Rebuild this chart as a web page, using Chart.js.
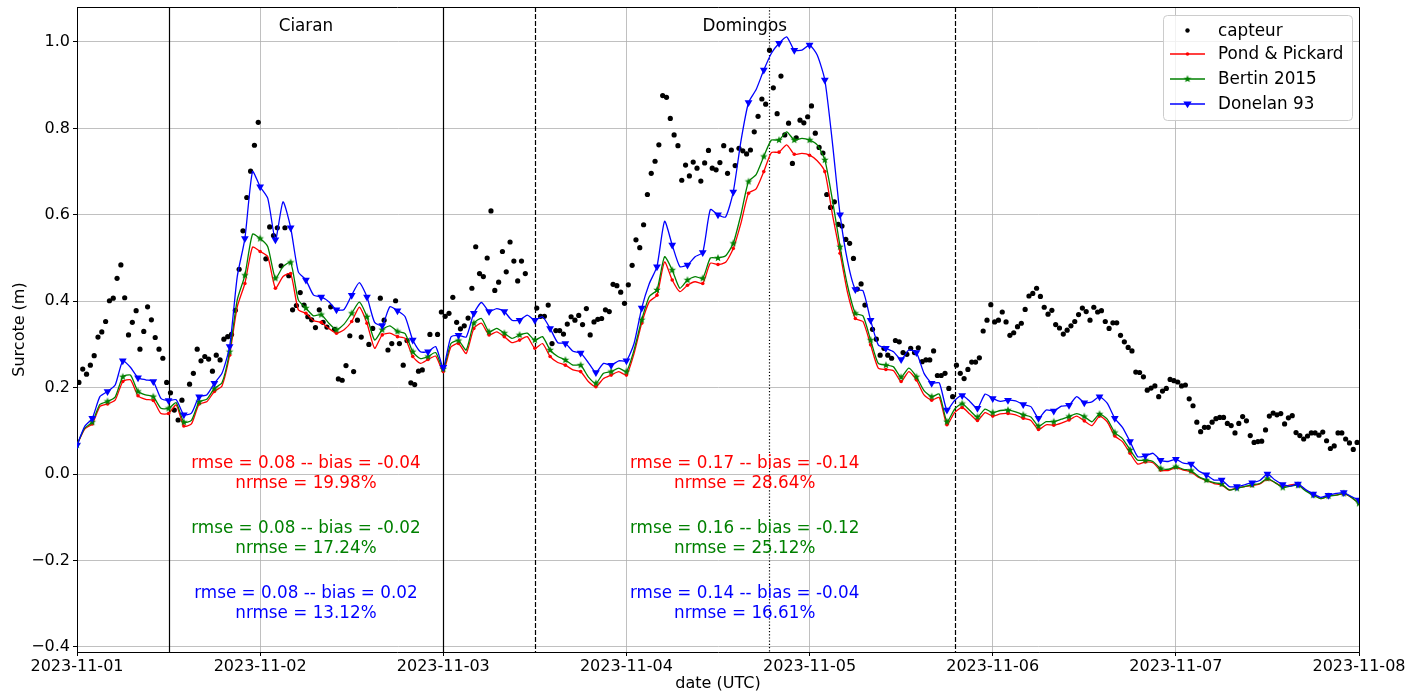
<!DOCTYPE html>
<html>
<head>
<meta charset="utf-8">
<script src="https://cdn.jsdelivr.net/npm/chart.js@4.4.0/dist/chart.umd.min.js"></script>
<style>
  body { margin: 0; background: #fff; }
  canvas { display: block; }
</style>
</head>
<body>
<canvas id="surcoteChart" width="1414" height="693"></canvas>
<script>
const FONT = "'DejaVu Sans', sans-serif";

// x axis is in hours since 2023-11-01 00:00 UTC
const dayLabels = ['2023-11-01', '2023-11-02', '2023-11-03', '2023-11-04',
                   '2023-11-05', '2023-11-06', '2023-11-07', '2023-11-08'];

// storms: solid/dashed bounds (hours) + dotted line for Domingos
const stormNames = ['Ciaran', 'Domingos'];
const stormStart = [12, 60];
const stormEnd = [48, 115];
const stormDash = [[], [5, 2]];
const domingosMark = 90.7;

// scores printed under each storm (Pond & Pickard, Bertin, Donelan)
const ciaranStats = [
    ['rmse = 0.08 -- bias = -0.04', 'nrmse = 19.98%'],
    ['rmse = 0.08 -- bias = -0.02', 'nrmse = 17.24%'],
    ['rmse = 0.08 -- bias = 0.02', 'nrmse = 13.12%']
];
const domingosStats = [
    ['rmse = 0.17 -- bias = -0.14', 'nrmse = 28.64%'],
    ['rmse = 0.16 -- bias = -0.12', 'nrmse = 25.12%'],
    ['rmse = 0.14 -- bias = -0.04', 'nrmse = 16.61%']
];
const statLevels = [0, -0.15, -0.3];

// sensor, half-hourly from 00:15 (null = missing)
const capteur = [
    0.212,0.243,0.231,0.252,0.274,0.317,0.329,0.353,0.401,0.407,0.453,0.484,0.408,0.322,0.351,0.378,0.289,0.330,0.387,0.357,0.316,0.289,0.268,0.212,
    0.188,0.148,0.125,0.171,null,0.208,0.233,0.289,0.262,0.272,0.266,0.238,0.275,0.264,0.312,0.318,0.323,0.379,0.474,0.563,0.640,0.701,0.761,0.814,
    null,0.498,0.572,0.552,0.570,0.482,0.570,0.459,0.380,0.390,0.420,0.391,0.364,0.357,0.339,0.380,0.351,0.340,0.387,0.335,0.220,0.217,0.251,0.320,
    0.237,0.356,0.317,null,0.300,0.337,null,0.407,0.356,0.287,0.302,0.401,0.302,0.252,0.309,0.211,0.207,0.238,0.241,null,0.323,null,0.323,0.375,
    0.365,0.372,0.409,0.351,0.336,0.343,0.361,0.430,0.526,0.464,0.457,0.500,0.609,0.425,0.444,0.515,0.468,0.537,0.493,0.447,0.493,0.464,null,null,
    0.384,0.365,0.365,0.391,0.302,0.332,0.332,0.324,0.347,0.364,0.356,0.367,0.346,0.383,0.322,0.352,0.358,0.360,0.380,0.376,0.439,0.436,0.421,0.395,
    0.438,0.483,0.542,0.524,0.577,0.647,0.696,0.724,0.762,0.876,0.872,0.823,0.785,0.760,0.680,0.715,0.690,0.722,0.708,0.678,0.720,0.749,0.708,0.704,
    0.721,0.760,0.696,0.750,0.714,0.754,0.748,0.741,0.750,0.792,0.828,0.868,0.856,0.981,0.894,0.834,0.921,0.785,0.812,0.719,0.778,0.819,0.813,0.827,
    0.852,0.789,0.756,0.743,0.647,0.617,0.630,0.578,0.574,0.543,0.534,0.499,0.428,0.440,0.391,null,0.335,0.312,0.275,0.291,0.275,0.268,0.309,0.306,
    0.281,0.277,0.291,0.281,0.292,0.260,0.264,0.264,0.285,0.228,0.228,0.233,0.198,0.179,0.252,0.233,0.221,0.242,0.259,0.259,0.269,0.331,0.356,0.392,
    0.352,0.356,0.375,0.352,0.321,0.327,0.341,0.349,0.381,0.412,0.418,0.430,0.411,0.386,0.370,0.379,0.346,0.338,0.324,0.333,0.343,0.353,0.369,0.384,
    0.376,0.356,0.386,0.375,0.378,0.353,0.337,0.350,0.350,0.321,0.306,0.293,0.285,0.236,0.235,0.225,0.194,0.199,0.204,0.179,0.192,0.198,0.219,0.216,
    0.213,0.204,0.206,0.174,0.158,0.120,0.098,0.108,0.108,0.120,0.128,0.131,0.131,0.117,0.112,0.095,0.117,0.133,0.123,0.089,0.073,0.075,0.076,0.102,
    0.134,0.141,0.137,0.140,0.116,0.130,0.135,0.096,0.089,0.081,0.088,0.095,0.095,0.090,0.097,0.077,0.059,0.065,0.095,0.095,0.081,0.072,0.057,0.073
];

// models, hourly from 00:00
const pondPickard = [
    0.067,0.104,0.116,0.156,0.162,0.171,0.214,0.218,0.181,0.173,
    0.170,0.140,0.140,0.160,0.111,0.116,0.162,0.167,0.191,0.204,
    0.275,0.387,0.441,0.525,0.515,0.503,0.430,0.457,0.464,0.380,
    0.372,0.355,0.351,0.337,0.326,0.334,0.353,0.386,0.349,0.291,
    0.322,0.326,0.318,0.314,0.272,0.256,0.265,0.273,0.237,0.294,
    0.302,0.279,0.337,0.349,0.322,0.329,0.318,0.304,0.310,0.318,
    0.291,0.302,0.272,0.258,0.252,0.241,0.237,0.214,0.202,0.221,
    0.229,0.237,0.229,0.279,0.349,0.399,0.414,0.491,0.449,0.422,
    0.437,0.445,0.441,0.488,0.485,0.490,0.522,0.580,0.650,0.660,
    0.700,0.744,0.745,0.762,0.740,0.742,0.738,0.725,0.700,0.600,
    0.511,0.418,0.360,0.353,0.299,0.245,0.242,0.239,0.214,0.237,
    0.218,0.183,0.171,0.177,0.114,0.142,0.154,0.139,0.124,0.142,
    0.134,0.139,0.140,0.137,0.129,0.124,0.103,0.114,0.113,0.118,
    0.125,0.134,0.123,0.112,0.134,0.121,0.088,0.075,0.048,0.023,
    0.028,0.026,0.009,0.008,0.015,0.009,0.005,-0.008,-0.015,-0.022,
    -0.025,-0.037,-0.032,-0.029,-0.027,-0.023,-0.012,-0.020,-0.029,-0.025,
    -0.024,-0.037,-0.047,-0.057,-0.051,-0.049,-0.046,-0.054,-0.068
];
const bertin2015 = [
    0.067,0.106,0.120,0.161,0.168,0.178,0.225,0.229,0.191,0.183,
    0.179,0.152,0.152,0.165,0.120,0.124,0.167,0.173,0.198,0.211,
    0.283,0.403,0.460,0.555,0.545,0.526,0.453,0.480,0.490,0.403,
    0.384,0.366,0.369,0.349,0.334,0.347,0.372,0.398,0.364,0.310,
    0.334,0.343,0.330,0.325,0.283,0.267,0.272,0.281,0.243,0.302,
    0.309,0.287,0.349,0.360,0.329,0.337,0.326,0.314,0.322,0.326,
    0.310,0.318,0.287,0.272,0.264,0.252,0.252,0.225,0.210,0.233,
    0.237,0.245,0.237,0.287,0.357,0.411,0.426,0.503,0.472,0.430,
    0.449,0.457,0.453,0.500,0.500,0.505,0.534,0.600,0.677,0.693,
    0.735,0.773,0.773,0.792,0.773,0.777,0.773,0.762,0.727,0.634,
    0.526,0.434,0.372,0.366,0.310,0.256,0.252,0.248,0.224,0.245,
    0.225,0.193,0.179,0.185,0.121,0.150,0.163,0.147,0.132,0.150,
    0.142,0.147,0.148,0.144,0.137,0.132,0.111,0.121,0.121,0.127,
    0.133,0.140,0.133,0.121,0.139,0.127,0.096,0.082,0.056,0.032,
    0.032,0.029,0.013,0.011,0.017,0.011,0.008,-0.006,-0.014,-0.020,
    -0.023,-0.037,-0.033,-0.029,-0.025,-0.022,-0.010,-0.020,-0.031,-0.028,
    -0.026,-0.039,-0.049,-0.057,-0.051,-0.049,-0.045,-0.054,-0.068
];
const donelan93 = [
    0.067,0.110,0.129,0.179,0.191,0.206,0.262,0.247,0.223,0.218,
    0.214,0.175,0.170,0.172,0.137,0.141,0.179,0.183,0.210,0.233,
    0.295,0.457,0.545,0.700,0.665,0.638,0.542,0.630,0.570,0.468,
    0.449,0.414,0.410,0.399,0.380,0.381,0.414,0.443,0.410,0.351,
    0.344,0.387,0.378,0.364,0.310,0.283,0.283,0.295,0.247,0.317,
    0.321,0.317,0.372,0.397,0.376,0.383,0.376,0.356,0.356,0.368,
    0.356,0.364,0.337,0.304,0.302,0.284,0.280,0.258,0.235,0.256,
    0.252,0.262,0.262,0.302,0.384,0.441,0.480,0.585,0.530,0.480,
    0.484,0.503,0.513,0.612,0.600,0.595,0.653,0.770,0.860,0.890,
    0.935,0.974,0.997,1.012,0.981,0.981,0.993,0.970,0.912,0.766,
    0.600,0.491,0.427,0.424,0.356,0.299,0.291,0.283,0.265,0.287,
    0.281,0.233,0.210,0.211,0.148,0.170,0.182,0.168,0.152,0.185,
    0.175,0.168,0.171,0.169,0.161,0.156,0.129,0.148,0.146,0.157,
    0.159,0.179,0.165,0.167,0.179,0.164,0.129,0.108,0.075,0.040,
    0.042,0.048,0.032,0.029,0.034,0.025,0.023,0.007,-0.002,-0.014,
    -0.014,-0.029,-0.029,-0.025,-0.020,-0.015,0.000,-0.014,-0.024,-0.028,
    -0.023,-0.036,-0.046,-0.054,-0.049,-0.045,-0.043,-0.052,-0.060
];

const RED = '#ff0000', GREEN = '#008000', BLUE = '#0000ff';

function hourly(arr) {
    return arr.map((v, i) => ({ x: i, y: v }));
}

const capteurPts = [];
capteur.forEach((v, i) => {
    if (v !== null) capteurPts.push({ x: 0.25 + 0.5 * i, y: v });
});

// filled 5-branch star like matplotlib '*'
function starImage(color, r) {
    const c = document.createElement('canvas');
    c.width = c.height = 2 * r + 2;
    const g = c.getContext('2d');
    g.fillStyle = color;
    g.beginPath();
    for (let k = 0; k < 10; k++) {
        const rad = k % 2 === 0 ? r : r * 0.42;
        const a = -Math.PI / 2 + k * Math.PI / 5;
        g.lineTo(r + 1 + rad * Math.cos(a), r + 1 + rad * Math.sin(a));
    }
    g.closePath();
    g.fill();
    return c;
}
const greenStar = starImage(GREEN, 4);

// markers only every other hour
const every2 = r => ctx => (ctx.dataIndex % 2 === 0 ? r : 0);

function drawTriDown(g, x, y, r, color) {
    g.fillStyle = color;
    g.beginPath();
    g.moveTo(x - r, y - r * 0.6);
    g.lineTo(x + r, y - r * 0.6);
    g.lineTo(x, y + r);
    g.closePath();
    g.fill();
}

const overlay = {
    id: 'overlay',
    beforeDatasetsDraw(chart) {
        const { ctx, chartArea: a, scales: { x } } = chart;
        ctx.save();
        ctx.strokeStyle = '#000';
        ctx.lineWidth = 1.2;
        const vline = (h, dash) => {
            const px = Math.round(x.getPixelForValue(h)) + 0.5;
            ctx.setLineDash(dash);
            ctx.beginPath();
            ctx.moveTo(px, a.top);
            ctx.lineTo(px, a.bottom);
            ctx.stroke();
        };
        stormStart.forEach((h, i) => vline(h, stormDash[i]));
        stormEnd.forEach((h, i) => vline(h, stormDash[i]));
        vline(domingosMark, [1.2, 2]);
        ctx.restore();
    },
    afterDraw(chart) {
        const { ctx, chartArea: a, scales: { x, y } } = chart;
        ctx.save();

        // top and right spines
        ctx.strokeStyle = '#000';
        ctx.lineWidth = 1;
        ctx.beginPath();
        ctx.moveTo(a.left, a.top + 0.5);
        ctx.lineTo(a.right + 0.5, a.top + 0.5);
        ctx.lineTo(a.right + 0.5, a.bottom);
        ctx.stroke();

        ctx.font = '16.8px ' + FONT;
        ctx.textAlign = 'center';
        ctx.textBaseline = 'middle';

        // storm names and scores
        const colors = [RED, GREEN, BLUE];
        const stats = [ciaranStats, domingosStats];
        stormNames.forEach((name, i) => {
            const cx = x.getPixelForValue((stormStart[i] + stormEnd[i]) / 2);
            ctx.fillStyle = '#000';
            ctx.fillText(name, cx, y.getPixelForValue(1.035));
            stats[i].forEach((lines, k) => {
                const cy = y.getPixelForValue(statLevels[k]);
                ctx.fillStyle = colors[k];
                ctx.fillText(lines[0], cx, cy - 10);
                ctx.fillText(lines[1], cx, cy + 10);
            });
        });

        // axis titles
        ctx.font = '16px ' + FONT;
        ctx.fillStyle = '#000';
        ctx.fillText('date (UTC)', (a.left + a.right) / 2, 684);
        ctx.save();
        ctx.translate(20, (a.top + a.bottom) / 2);
        ctx.rotate(-Math.PI / 2);
        ctx.fillText('Surcote (m)', 0, 0);
        ctx.restore();

        // legend box
        const lx = 1163, ly = 15, lw = 189, lh = 105;
        ctx.fillStyle = 'rgba(255,255,255,0.8)';
        ctx.strokeStyle = '#cccccc';
        ctx.lineWidth = 1;
        ctx.beginPath();
        ctx.roundRect(lx + 0.5, ly + 0.5, lw, lh, 4);
        ctx.fill();
        ctx.stroke();

        ctx.font = '16.8px ' + FONT;
        const rows = [
            { label: 'capteur', y: 30.5 },
            { label: 'Pond & Pickard', y: 54, color: RED },
            { label: 'Bertin 2015', y: 79, color: GREEN },
            { label: 'Donelan 93', y: 104, color: BLUE }
        ];
        rows.forEach((r, i) => {
            const mx = 1187.5;
            if (i === 0) {
                ctx.fillStyle = '#000';
                ctx.beginPath();
                ctx.arc(mx, r.y, 2.2, 0, Math.PI * 2);
                ctx.fill();
            } else {
                ctx.strokeStyle = r.color;
                ctx.lineWidth = 1.3;
                ctx.beginPath();
                ctx.moveTo(1170, r.y);
                ctx.lineTo(1205, r.y);
                ctx.stroke();
                if (i === 1) {
                    ctx.fillStyle = RED;
                    ctx.beginPath();
                    ctx.arc(mx, r.y, 1.8, 0, Math.PI * 2);
                    ctx.fill();
                } else if (i === 2) {
                    ctx.drawImage(greenStar, mx - greenStar.width / 2, r.y - greenStar.height / 2);
                } else {
                    drawTriDown(ctx, mx, r.y, 4.2, BLUE);
                }
            }
            ctx.fillStyle = '#000';
            ctx.textAlign = 'left';
            ctx.fillText(r.label, 1218, r.y + 1);
        });
        ctx.restore();
    }
};

new Chart(document.getElementById('surcoteChart'), {
    type: 'line',
    data: {
        datasets: [
            {
                label: 'capteur',
                data: capteurPts,
                showLine: false,
                pointRadius: 2.6,
                pointBackgroundColor: '#000',
                pointBorderWidth: 0,
                order: 4
            },
            {
                label: 'Pond & Pickard',
                data: hourly(pondPickard),
                borderColor: RED,
                borderWidth: 1.3,
                tension: 0.2,
                pointStyle: 'circle',
                pointRadius: every2(1.8),
                pointBackgroundColor: RED,
                pointBorderWidth: 0,
                order: 3
            },
            {
                label: 'Bertin 2015',
                data: hourly(bertin2015),
                borderColor: GREEN,
                borderWidth: 1.3,
                tension: 0.2,
                pointStyle: greenStar,
                pointRadius: every2(4),
                order: 2
            },
            {
                label: 'Donelan 93',
                data: hourly(donelan93),
                borderColor: BLUE,
                borderWidth: 1.3,
                tension: 0.2,
                pointStyle: 'triangle',
                rotation: 180,
                pointRadius: every2(4.5),
                pointBackgroundColor: BLUE,
                pointBorderWidth: 0,
                order: 1
            }
        ]
    },
    options: {
        responsive: false,
        animation: false,
        devicePixelRatio: 1,
        layout: { padding: { top: 7, right: 55, left: 0, bottom: 0 } },
        plugins: {
            legend: { display: false },
            tooltip: { enabled: false }
        },
        scales: {
            x: {
                type: 'linear',
                min: 0,
                max: 168,
                afterFit: s => { s.height = 41; s.paddingLeft = 0; s.paddingRight = 0; },
                ticks: {
                    stepSize: 24,
                    autoSkip: false,
                    maxRotation: 0,
                    padding: 1,
                    color: '#000',
                    font: { family: FONT, size: 16 },
                    callback: v => dayLabels[Math.round(v / 24)]
                },
                grid: { color: '#b0b0b0', lineWidth: 0.8, tickLength: 4, tickColor: '#000', tickWidth: 1 },
                border: { color: '#000', width: 1 }
            },
            y: {
                min: -0.412,
                max: 1.081,
                afterFit: s => { s.width = 77; s.paddingTop = 0; s.paddingBottom = 0; },
                ticks: {
                    stepSize: 0.2,
                    includeBounds: false,
                    padding: 3,
                    color: '#000',
                    font: { family: FONT, size: 16 },
                    callback: v => (Math.abs(v) < 1e-9 ? '0.0' : v.toFixed(1).replace('-', '\u2212'))
                },
                grid: { color: '#b0b0b0', lineWidth: 0.8, tickLength: 4, tickColor: '#000', tickWidth: 1 },
                border: { color: '#000', width: 1 }
            }
        }
    },
    plugins: [overlay]
});
</script>
</body>
</html>
